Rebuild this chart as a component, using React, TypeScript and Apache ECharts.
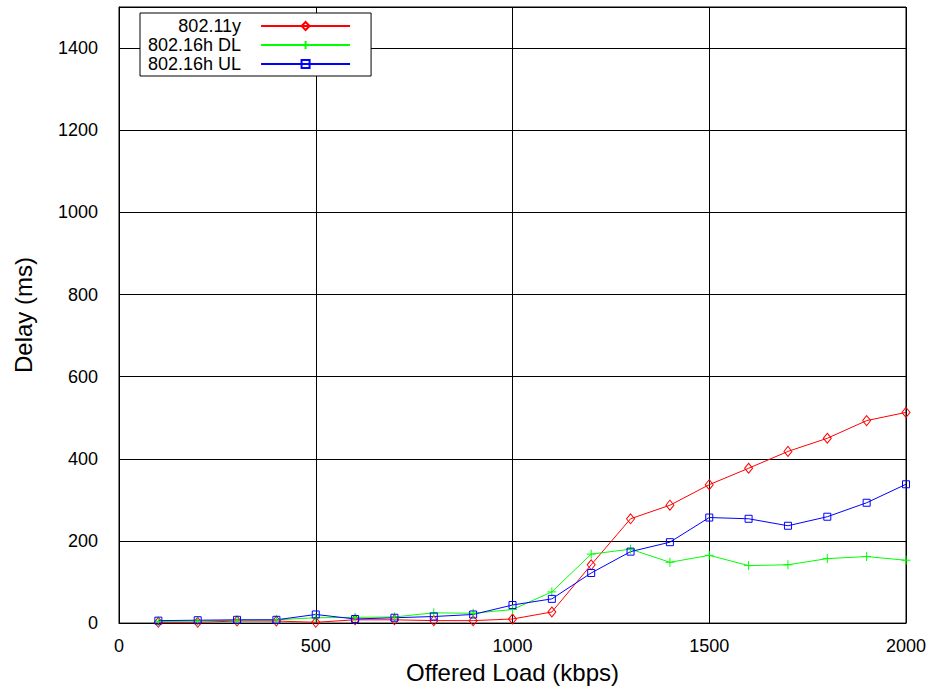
import React, { useEffect, useRef } from "react";
import * as echarts from "echarts";

const loads = [100, 200, 300, 400, 500, 600, 700, 800, 900, 1000, 1100, 1200, 1300, 1400, 1500, 1600, 1700, 1800, 1900, 2000];
const wifi11y = [2, 2, 5, 5, 2, 8, 8, 6, 6, 10, 27, 142, 254, 287, 337, 377, 418, 450, 493, 513];
const wimaxDL = [4, 5, 7, 8, 13, 14, 15, 25, 24, 33, 76, 168, 180, 148, 165, 140, 142, 157, 162, 153];
const wimaxUL = [6, 7, 8, 8, 21, 10, 13, 16, 21, 44, 59, 122, 174, 197, 257, 254, 237, 259, 293, 338];
const seriesNames = ["802.11y", "802.16h DL", "802.16h UL"];

const FONT = "'Liberation Sans', Arial, Helvetica, sans-serif";

const pairs = (ys: number[]) => loads.map((x, i) => [x, ys[i]]);

export default function App() {
  const ref = useRef<HTMLDivElement>(null);
  useEffect(() => {
    document.body.style.margin = "0";
    const chart = echarts.init(ref.current!, null, { renderer: "svg" });
    const mk = (name: string, data: number[], color: string, symbol: string, size: number | number[]) => ({
      name,
      type: "line",
      data: pairs(data),
      symbol,
      symbolSize: size,
      showSymbol: true,
      lineStyle: { color, width: 1 },
      itemStyle: { color: "rgba(0,0,0,0)", borderColor: color, borderWidth: 1 },
      emphasis: { disabled: true },
      z: 3,
    });
    chart.setOption({
      animation: false,
      textStyle: { fontFamily: FONT, color: "#000" },
      grid: { left: 119, right: 26, top: 7, bottom: 62, show: true, borderColor: "#000", borderWidth: 1, backgroundColor: "transparent" },
      legend: {
        orient: "vertical",
        align: "right",
        left: 140,
        top: 13,
        padding: [4, 20, 3, 8],
        itemWidth: 89,
        itemHeight: 10,
        itemGap: 1,
        borderColor: "#000",
        borderWidth: 1,
        backgroundColor: "#fff",
        borderRadius: 0,
        selectedMode: false,
        textStyle: { fontFamily: FONT, fontSize: 18, color: "#000", padding: [0, 15, 0, 0] },
        data: seriesNames,
      },
      xAxis: {
        type: "value",
        min: 0,
        max: 2000,
        interval: 500,
        name: "Offered Load (kbps)",
        nameLocation: "middle",
        nameGap: 31,
        nameTextStyle: { fontFamily: FONT, fontSize: 24, color: "#000" },
        axisLine: { show: true, lineStyle: { color: "#000", width: 1 } },
        axisTick: { show: false },
        axisLabel: { fontFamily: FONT, fontSize: 18, color: "#000", margin: 14, formatter: (v: number) => String(v) },
        splitLine: { show: true, lineStyle: { color: "#000", width: 1 } },
      },
      yAxis: {
        type: "value",
        min: 0,
        max: 1500,
        interval: 200,
        name: "Delay (ms)",
        nameLocation: "middle",
        nameGap: 84,
        nameTextStyle: { fontFamily: FONT, fontSize: 24, color: "#000" },
        axisLine: { show: true, lineStyle: { color: "#000", width: 1 } },
        axisTick: { show: false },
        axisLabel: { fontFamily: FONT, fontSize: 18, color: "#000", margin: 21, showMaxLabel: false, formatter: (v: number) => String(v) },
        splitLine: { show: true, lineStyle: { color: "#000", width: 1 } },
      },
      series: [
        mk(seriesNames[0], wifi11y, "#ff0000", "diamond", [8, 10]),
        mk(seriesNames[1], wimaxDL, "#00ff00", "path://M0,4.5H9M4.5,0V9", 9),
        mk(seriesNames[2], wimaxUL, "#0000ff", "rect", 7),
      ],
    });
    return () => chart.dispose();
  }, []);
  return <div ref={ref} style={{ width: 932, height: 689 }} />;
}
